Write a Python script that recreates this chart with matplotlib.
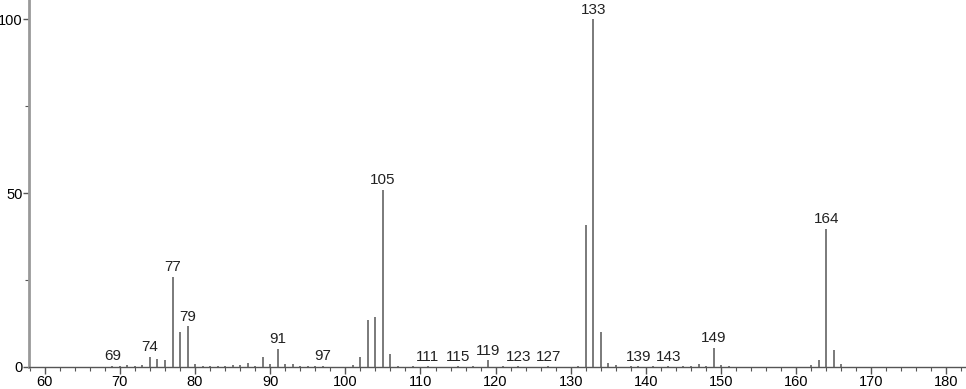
import matplotlib
matplotlib.use("Agg")
import matplotlib.pyplot as plt
from matplotlib.ticker import MultipleLocator

mz = [69, 70, 71, 72, 73, 74, 75, 76, 77, 78, 79, 80, 81, 82, 83, 84, 85, 86, 87,
      88, 89, 90, 91, 92, 93, 94, 95, 96, 97, 101, 102, 103, 104, 105, 106, 107,
      109, 111, 115, 117, 119, 121, 123, 127, 131, 132, 133, 134, 135, 136, 138,
      139, 141, 143, 145, 146, 147, 148, 149, 150, 151, 162, 163, 164, 165, 166]
intensity = [0.4, 0.3, 0.5, 0.3, 0.5, 2.9, 2.3, 2.0, 26.0, 10.2, 11.8, 0.8, 0.3,
             0.3, 0.4, 0.3, 0.5, 0.6, 1.1, 0.4, 3.0, 1.0, 5.2, 1.0, 0.8, 0.3, 0.3,
             0.4, 0.4, 0.6, 3.0, 13.5, 14.5, 51.0, 3.7, 0.3,
             0.3, 0.3, 0.3, 0.3, 2.0, 0.3, 0.3, 0.3, 0.3, 40.8, 100.0, 10.0, 1.2, 0.5, 0.3,
             0.3, 0.3, 0.3, 0.3, 0.4, 0.9, 0.3, 5.5, 0.5, 0.3, 0.5, 2.0, 39.7, 4.8, 0.8]

label_mz = [69, 74, 77, 79, 91, 97, 105, 111, 115, 119, 123, 127, 133, 139, 143, 149, 164]
label_text = ["69", "74", "77", "79", "91", "97", "105", "111", "115", "119",
              "123", "127", "133", "139", "143", "149", "164"]

xticks = [60, 70, 80, 90, 100, 110, 120, 130, 140, 150, 160, 170, 180]
yticks = [0, 50, 100]

plt.rcParams['font.family'] = ['Liberation Sans', 'DejaVu Sans']

fig = plt.figure(figsize=(9.66, 3.89), dpi=100)
ax = fig.add_axes([29 / 966, 22 / 389, 1 - 29 / 966, 1 - 22 / 389])
ax.set_xlim(57.9, 182.6)
ax.set_ylim(0, 105.5)

ax.vlines(mz, 0, intensity, colors="#707070", linewidth=1.3)

lookup = dict(zip(mz, intensity))
for m, t in zip(label_mz, label_text):
    h = lookup.get(m, 0.3)
    ax.text(m, h + 0.7, t, ha="center", va="bottom", fontsize=11, color="#222222")

for s in ["top", "right"]:
    ax.spines[s].set_visible(False)
ax.spines["left"].set_color("#999999")
ax.spines["left"].set_linewidth(2.0)
ax.spines["bottom"].set_color("#555555")
ax.spines["bottom"].set_linewidth(1.0)

ax.set_xticks(xticks)
ax.set_xticklabels([str(v) for v in xticks])
ax.xaxis.set_minor_locator(MultipleLocator(2))
ax.set_yticks(yticks)
ax.set_yticklabels([str(v) for v in yticks])
ax.yaxis.set_minor_locator(MultipleLocator(25))

ax.tick_params(axis="x", which="major", length=5, width=1, color="#555555",
               labelsize=10.5, pad=1, direction="out")
ax.tick_params(axis="x", which="minor", length=3, width=0.8, color="#555555",
               direction="out")
ax.tick_params(axis="y", which="major", length=4, width=1, color="#555555",
               labelsize=10.5, pad=0.5, direction="out")
ax.tick_params(axis="y", which="minor", length=3, width=0.8, color="#555555",
               direction="out")

fig.savefig("out.png", dpi=100)
